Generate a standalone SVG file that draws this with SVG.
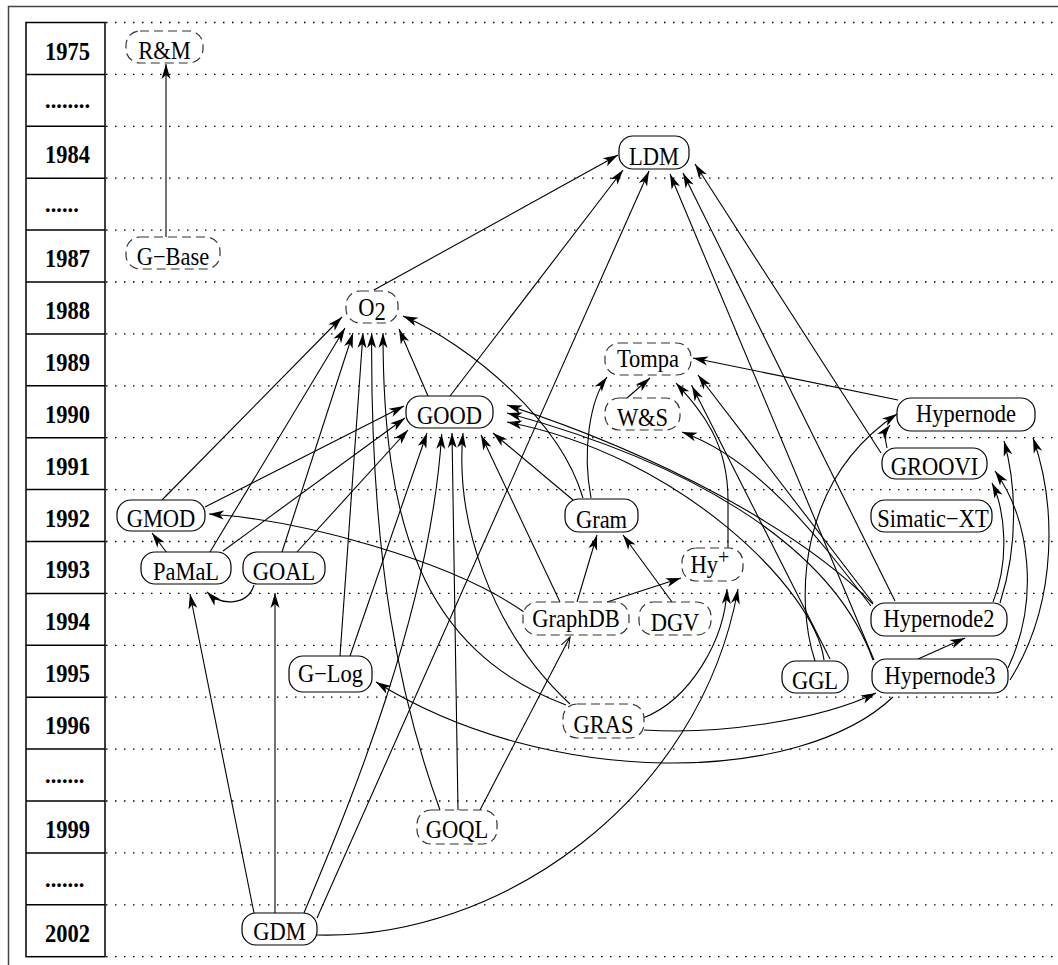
<svg xmlns="http://www.w3.org/2000/svg" width="1058" height="965" viewBox="0 0 1058 965">
<defs>
  <marker id="ah" viewBox="-16 -6 17 12" refX="0" refY="0" markerWidth="17" markerHeight="12" orient="auto" markerUnits="userSpaceOnUse">
    <path d="M0,0 L-15,-4.5 L-11,0 L-15,4.5 Z" fill="#000"/>
  </marker>
  <marker id="open" viewBox="-12 -6 13 12" refX="0" refY="0" markerWidth="13" markerHeight="12" orient="auto" markerUnits="userSpaceOnUse">
    <path d="M-11,-4 L0,0 L-11,4" fill="none" stroke="#000" stroke-width="1"/>
  </marker>
</defs>
<style>
  .frame { fill: none; stroke: #444; stroke-width: 1.5; }
  .tbl { fill: none; stroke: #000; stroke-width: 1.5; }
  .grid { stroke: #000; stroke-width: 1.3; stroke-dasharray: 1.5 7.5; }
  .yr { font-family: "Liberation Serif", serif; font-weight: bold; font-size: 22.5px; fill: #000; }
  .box { fill: #fff; stroke: #000; stroke-width: 1.2; }
  .dash { stroke-dasharray: 9 5; stroke: #333; }
  .nt { font-family: "Liberation Serif", serif; font-size: 22.5px; text-anchor: middle; fill: #000; }
  .sup { font-size: 20px; fill: #000; }
  .e { fill: none; stroke: #000; stroke-width: 1.1; marker-end: url(#ah); }
  .eo { fill: none; stroke: #000; stroke-width: 1.1; marker-end: url(#open); }
</style>
<rect width="1058" height="965" fill="#fff"/>
<path class="frame" d="M8.5,965 V6.5 H1058"/>

<!-- year column: labels are stretched a little vertically about their baseline -->
<g id="years">
  <rect class="tbl" x="26" y="22.5" width="79" height="934.2"/>
  <path class="tbl" d="M26,74.4H105M26,126.3H105M26,178.2H105M26,230.1H105M26,282H105M26,333.9H105M26,385.8H105M26,437.7H105M26,489.6H105M26,541.5H105M26,593.4H105M26,645.3H105M26,697.2H105M26,749.1H105M26,801H105M26,852.9H105M26,904.8H105"/>
  <text class="yr" transform="translate(45,59.5) scale(1,1.09)">1975</text>
  <text class="yr" transform="translate(45,108.4)">........</text>
  <text class="yr" transform="translate(45,163.2) scale(1,1.09)">1984</text>
  <text class="yr" transform="translate(45,212.2)">......</text>
  <text class="yr" transform="translate(45,267) scale(1,1.09)">1987</text>
  <text class="yr" transform="translate(45,318.9) scale(1,1.09)">1988</text>
  <text class="yr" transform="translate(45,370.8) scale(1,1.09)">1989</text>
  <text class="yr" transform="translate(45,422.7) scale(1,1.09)">1990</text>
  <text class="yr" transform="translate(45,474.6) scale(1,1.09)">1991</text>
  <text class="yr" transform="translate(45,526.5) scale(1,1.09)">1992</text>
  <text class="yr" transform="translate(45,578.4) scale(1,1.09)">1993</text>
  <text class="yr" transform="translate(45,630.3) scale(1,1.09)">1994</text>
  <text class="yr" transform="translate(45,682.2) scale(1,1.09)">1995</text>
  <text class="yr" transform="translate(45,734.1) scale(1,1.09)">1996</text>
  <text class="yr" transform="translate(45,783)">.......</text>
  <text class="yr" transform="translate(45,837.9) scale(1,1.09)">1999</text>
  <text class="yr" transform="translate(45,886.8)">.......</text>
  <text class="yr" transform="translate(45,941.7) scale(1,1.09)">2002</text>
</g>

<!-- dotted year separators -->
<path class="grid" d="M106,22.5H1058M106,74.4H1058M106,126.3H1058M106,178.2H1058M106,230.1H1058M106,282H1058M106,333.9H1058M106,385.8H1058M106,437.7H1058M106,489.6H1058M106,541.5H1058M106,593.4H1058M106,645.3H1058M106,697.2H1058M106,749.1H1058M106,801H1058M106,852.9H1058M106,904.8H1058M106,956.7H1058"/>

<!-- connectors -->
<g id="connectors">
  <path class="e" d="M166,237 L166,64"/>
  <path class="e" d="M374,290 L618,155"/>
  <path class="e" d="M450,396 L623,170"/>
  <path class="e" d="M317,918 L649,171"/>
  <path class="e" d="M304,913 C340,826 430,620 441.7,434"/>
  <path class="e" d="M881,453 L695,164"/>
  <path class="e" d="M895,601 L683,173"/>
  <path class="e" d="M874,660 L670,174"/>
  <path class="e" d="M428,396 L399,329"/>
  <path class="e" d="M583,498 C560,420 470,345 403,316"/>
  <path class="e" d="M591,498 C582,450 590,400 607,377"/>
  <path class="e" d="M573,500 L493,433"/>
  <path class="e" d="M627,398 L650,378"/>
  <path class="e" d="M728,548 L728,500 C728,440 700,410 676,383"/>
  <path class="e" d="M898,400 L693,358"/>
  <path class="e" d="M873,603 L698,375"/>
  <path class="e" d="M830,659 L692,386"/>
  <path class="e" d="M871,606 C820,540 760,460 682,432"/>
  <path class="e" d="M873,604 C800,530 660,455 507,405"/>
  <path class="e" d="M873,660 C830,540 680,460 507,413"/>
  <path class="e" d="M824,660 C815,590 680,455 507,422"/>
  <path class="e" d="M815,661 C795,600 798,480 897,414"/>
  <path class="e" d="M887,448 C884,438 886,430 890,425"/>
  <path class="e" d="M993,602 C1010,560 1005,510 992,483"/>
  <path class="e" d="M1000,603 C1020,540 1015,480 1004,441"/>
  <path class="e" d="M1008,668 C1040,600 1030,520 995,471"/>
  <path class="e" d="M1010,680 C1060,600 1055,500 1033,438"/>
  <path class="e" d="M918,659 L965,638"/>
  <path class="e" d="M162,500 L342,317"/>
  <path class="e" d="M205,507 L404,406"/>
  <path class="e" d="M167,553 L152,533"/>
  <path class="e" d="M210,552 L345,328"/>
  <path class="e" d="M223,551 L405,418"/>
  <path class="e" d="M282,552 L353,333"/>
  <path class="e" d="M297,552 L408,430"/>
  <path class="e" d="M254,585 C248,605 222,607 207,592"/>
  <path class="e" d="M340,656 L363,333"/>
  <path class="e" d="M350,656 L427,433"/>
  <path class="e" d="M440,810 C400,700 370,560 371.7,333"/>
  <path class="e" d="M458,810 L452,433"/>
  <path class="eo" d="M480,810 L570,637"/>
  <path class="e" d="M566,705 C420,650 383,520 383,333"/>
  <path class="e" d="M570,704 C490,630 455,520 463,433"/>
  <path class="e" d="M643,718 C690,700 725,640 727,589"/>
  <path class="e" d="M644,730 C720,735 820,720 876,693"/>
  <path class="e" d="M893,697 C800,785 550,790 376,682"/>
  <path class="e" d="M607,602 L681,578"/>
  <path class="e" d="M577,602 L597,535"/>
  <path class="e" d="M672,602 L623,535"/>
  <path class="e" d="M560,602 L481,435"/>
  <path class="e" d="M524,612 C450,560 300,520 209,514"/>
  <path class="e" d="M317,935 C500,940 700,800 738,589"/>
  <path class="e" d="M254,913 L190,594"/>
  <path class="e" d="M275,913 L275,593"/>
</g>

<!-- nodes: labels are stretched a little vertically about their baseline -->
<g id="n-rm"><rect class="box dash" x="126" y="31" width="77" height="32" rx="14"/><text class="nt" transform="translate(164.5,59) scale(1,1.1)">R&amp;M</text></g>
<g id="n-gbase"><rect class="box dash" x="126" y="237" width="94" height="32" rx="14"/><text class="nt" transform="translate(173,265) scale(1,1.1)">G−Base</text></g>
<g id="n-ldm"><rect class="box" x="619" y="136" width="70" height="33" rx="14"/><text class="nt" transform="translate(654,164.5) scale(1,1.1)">LDM</text></g>
<g id="n-o2"><rect class="box dash" x="346" y="291" width="52" height="32" rx="14"/><text class="nt" transform="translate(372,316) scale(1,1.1)">O<tspan dy="4">2</tspan></text></g>
<g id="n-good"><rect class="box" x="406" y="396" width="87" height="32" rx="14"/><text class="nt" transform="translate(449.5,424) scale(1,1.1)">GOOD</text></g>
<g id="n-tompa"><rect class="box dash" x="605" y="343" width="86" height="32" rx="14"/><text class="nt" transform="translate(648,367) scale(1,1.1)">Tompa</text></g>
<g id="n-ws"><rect class="box dash" x="605" y="398" width="75" height="32" rx="14"/><text class="nt" transform="translate(642.5,426) scale(1,1.1)">W&amp;S</text></g>
<g id="n-hypernode"><rect class="box" x="897" y="398" width="138" height="33" rx="14"/><text class="nt" transform="translate(966,422) scale(1,1.1)">Hypernode</text></g>
<g id="n-groovi"><rect class="box" x="882" y="448" width="105" height="31" rx="14"/><text class="nt" transform="translate(934.5,475) scale(1,1.1)">GROOVI</text></g>
<g id="n-simatic"><rect class="box" x="871" y="500" width="121" height="32" rx="14"/><text class="nt" transform="translate(933,527) scale(1,1.1)">Simatic−XT</text></g>
<g id="n-gmod"><rect class="box" x="117" y="500" width="88" height="31" rx="14"/><text class="nt" transform="translate(161,527) scale(1,1.1)">GMOD</text></g>
<g id="n-gram"><rect class="box" x="565" y="499" width="73" height="33" rx="14"/><text class="nt" transform="translate(601.5,527.5) scale(1,1.1)">Gram</text></g>
<g id="n-pamal"><rect class="box" x="141" y="552" width="90" height="32" rx="14"/><text class="nt" transform="translate(186,579.5) scale(1,1.1)">PaMaL</text></g>
<g id="n-goal"><rect class="box" x="243" y="552" width="82" height="32" rx="14"/><text class="nt" transform="translate(284,579.5) scale(1,1.1)">GOAL</text></g>
<g id="n-hyplus"><rect class="box dash" x="682" y="548" width="61" height="33" rx="14"/><text class="nt" transform="translate(710,573) scale(1,1.1)">Hy<tspan class="sup" dy="-8">+</tspan></text></g>
<g id="n-graphdb"><rect class="box dash" x="523" y="602" width="106" height="33" rx="14"/><text class="nt" transform="translate(576,626.5) scale(1,1.1)">GraphDB</text></g>
<g id="n-dgv"><rect class="box dash" x="639" y="602" width="72" height="33" rx="14"/><text class="nt" transform="translate(675,630.5) scale(1,1.1)">DGV</text></g>
<g id="n-hypernode2"><rect class="box" x="871" y="603" width="136" height="33" rx="14"/><text class="nt" transform="translate(939,627) scale(1,1.1)">Hypernode2</text></g>
<g id="n-glog"><rect class="box" x="289" y="656" width="83" height="36" rx="14"/><text class="nt" transform="translate(330.5,682) scale(1,1.1)">G−Log</text></g>
<g id="n-ggl"><rect class="box" x="782" y="661" width="66" height="32" rx="14"/><text class="nt" transform="translate(815,689) scale(1,1.1)">GGL</text></g>
<g id="n-hypernode3"><rect class="box" x="872" y="659" width="136" height="34" rx="14"/><text class="nt" transform="translate(940,683.5) scale(1,1.1)">Hypernode3</text></g>
<g id="n-gras"><rect class="box dash" x="563" y="704" width="81" height="34" rx="14"/><text class="nt" transform="translate(603.5,733) scale(1,1.1)">GRAS</text></g>
<g id="n-goql"><rect class="box dash" x="417" y="810" width="80" height="34" rx="14"/><text class="nt" transform="translate(457,838) scale(1,1.1)">GOQL</text></g>
<g id="n-gdm"><rect class="box" x="242" y="913" width="75" height="32" rx="14"/><text class="nt" transform="translate(279.5,940) scale(1,1.1)">GDM</text></g>
</svg>
